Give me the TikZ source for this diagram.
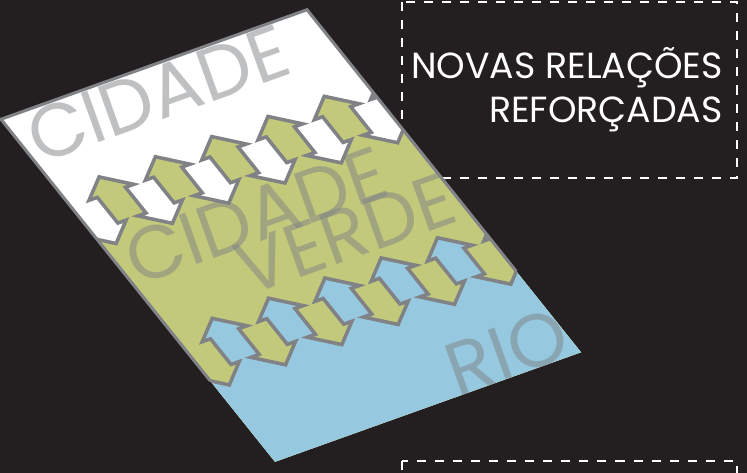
\documentclass[tikz,border=0pt]{standalone}
\usepackage{fontspec}
\setmainfont{Poppins}
\definecolor{fundo}{HTML}{231F20}
\definecolor{verde}{HTML}{C2C97B}
\definecolor{rio}{HTML}{96C9E0}
\definecolor{contorno}{HTML}{808285}
% borda dentada entre duas faixas, #1 = linha media no plano
\newcommand*\fronteira[1]{(-0.3,#1-0.0375)
	foreach \pos in {0.04,0.224,0.408,0.592,0.776,0.96}{
		-- (\pos-0.046,#1-0.0375) -- (\pos-0.046,#1+0.0375)
		-- (\pos-0.073,#1+0.0375) -- (\pos,#1+0.0825) -- (\pos+0.073,#1+0.0375)
		-- (\pos+0.046,#1+0.0375) -- (\pos+0.046,#1-0.0375)
		-- (\pos+0.019,#1-0.0375) -- (\pos+0.092,#1-0.0825) -- (\pos+0.165,#1-0.0375)
		-- (\pos+0.138,#1-0.0375)}}

\begin{document}
\begin{tikzpicture}[x=0.03cm,y=-0.03cm,
		plano/.style={shift={(1,119.25)},x={(9.18cm,3.285cm)},y={(8.22cm,-10.275cm)}},
		rotulo/.style={rotate=19.7,inner sep=0,text=contorno,text opacity=0.5,
			font=\fontsize{64}{64}\selectfont},
		titulo/.style={anchor=base east,inner sep=0,text=white,font=\fontsize{31}{37}\selectfont},
		caixa/.style={white,line width=1.7pt,dash pattern=on 7.7pt off 7.7pt},
		seta/.style={contorno,line width=3pt,line join=miter},
		borda/.style={contorno,line width=2.6pt,line join=miter}]
	\useasboundingbox[fill=fundo] (0,0) rectangle (747,473);
	\draw[caixa] (401.7,1.7) rectangle (736.7,178.3);
	\draw[caixa] (401.7,461) rectangle (736.7,490);

	\begin{scope}[plano]
		\clip (0,0) -- (1,0) -- (1,1) -- (0,1) -- cycle;
		\fill[white] (0,0) -- (1,0) -- (1,1) -- (0,1) -- cycle;
		\fill[verde] \fronteira{0.293} -- (1.3,1.3) -- (-0.3,1.3) -- cycle;
		\fill[rio] \fronteira{0.706} -- (1.3,1.3) -- (-0.3,1.3) -- cycle;
	\end{scope}

	\node[rotulo] (cidade) at (158,94) {CIDADE};
	\node[rotulo] (cidadeverde) at (256,216) {CIDADE};
	\node[rotulo] (verde) at (345,234) {VERDE};
	\node[rotulo] (rio) at (507,352) {RIO};

	\begin{scope}[plano]
		\begin{scope}
			\clip (0,0) -- (1,0) -- (1,1) -- (0,1) -- cycle;
			\draw[seta] \fronteira{0.293};
			\draw[seta] \fronteira{0.706};
		\end{scope}
		\draw[borda] (0,0.764) -- (0,0) -- (1,0) -- (1,0.764);
	\end{scope}

	\node[titulo] (novas) at (723,78) {NOVAS RELAÇÕES};
	\node[titulo] (reforcadas) at (723,122) {REFORÇADAS};
\end{tikzpicture}
\end{document}
